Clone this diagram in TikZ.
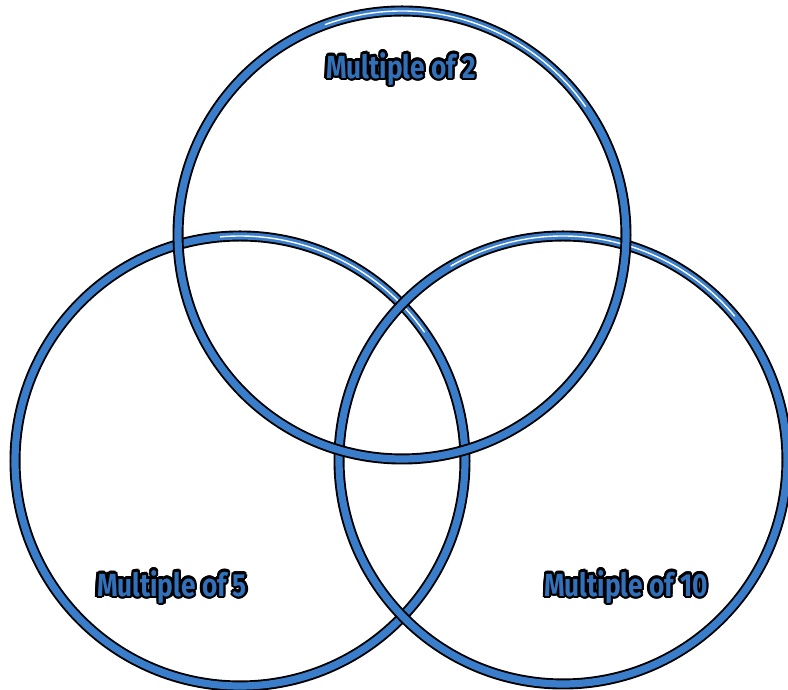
\documentclass[tikz,border=0pt]{standalone}
\usepackage{fontspec}
\setmainfont{Fira Sans}
\usepackage[copies]{contour}
\definecolor{ringblue}{RGB}{58,126,203}
\definecolor{textblue}{RGB}{50,112,186}
\newcommand{\setlabel}[1]{\contourlength{1.4pt}\scalebox{0.82}[1]{\contour{black}{\textcolor{textblue}{\bfseries #1}}}}
\tikzset{
  ringedge/.style={draw=black,line width=5.5pt},
  ringfill/.style={draw=ringblue,line width=3.6pt},
  shine/.style={draw=white,line width=0.7pt,line cap=round},
  setname/.style={font=\fontsize{16}{16}\selectfont,inner sep=0pt}
}
\begin{document}
\begin{tikzpicture}[x=0.5pt,y=0.5pt]
  \useasboundingbox (0,0) rectangle (788,690);

  % left ring (multiples of 5)
  \draw[ringedge] (240,229) circle[radius=225];
  \draw[ringfill] (240,229) circle[radius=225];
  \draw[shine] (240,229) ++(95:225) arc[start angle=95,end angle=35,radius=225];

  % right ring (multiples of 10)
  \draw[ringedge] (563,230) circle[radius=224];
  \draw[ringfill] (563,230) circle[radius=224];
  \draw[shine] (563,230) ++(120:224) arc[start angle=120,end angle=40,radius=224];

  % top ring (multiples of 2)
  \draw[ringedge] (402,455) circle[radius=224];
  \draw[ringfill] (402,455) circle[radius=224];
  \draw[shine] (402,455) ++(110:224) arc[start angle=110,end angle=35,radius=224];

  % set names
  \node[setname] (two) at (401,620) {\setlabel{Multiple of 2}};
  \node[setname] (five) at (172,102) {\setlabel{Multiple of 5}};
  \node[setname] (ten) at (626,102) {\setlabel{Multiple of 10}};
\end{tikzpicture}
\end{document}
